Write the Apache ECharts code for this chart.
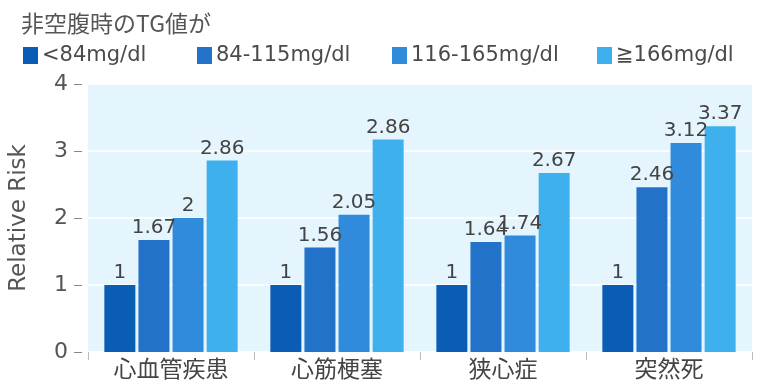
<!DOCTYPE html>
<html>
<head>
<meta charset="utf-8">
<script src="https://cdn.jsdelivr.net/npm/echarts@6/dist/echarts.min.js"></script>
<style>html,body{margin:0;padding:0;background:#fff}#c{width:757px;height:380px}</style>
</head>
<body>
<div id="c"></div>
<script>
const categories = ['心血管疾患', '心筋梗塞', '狭心症', '突然死'];
const seriesNames = ['<84mg/dl', '84-115mg/dl', '116-165mg/dl', '≧166mg/dl'];
const s1 = [1, 1, 1, 1];
const s2 = [1.67, 1.56, 1.64, 2.46];
const s3 = [2, 2.05, 1.74, 3.12];
const s4 = [2.86, 3.17, 2.67, 3.37];
const s1Labels = ['1', '1', '1', '1'];
const s2Labels = ['1.67', '1.56', '1.64', '2.46'];
const s3Labels = ['2', '2.05', '1.74', '3.12'];
const s4Labels = ['2.86', '2.86', '2.67', '3.37'];
const yTicks = [0, 1, 2, 3, 4];

const colors = ['#0a5cb4', '#2272c9', '#318bdc', '#3fb0ee'];
const values = [s1, s2, s3, s4];
const labels = [s1Labels, s2Labels, s3Labels, s4Labels];
const legendLefts = [18, 192, 387, 592];
const numFont = 'DejaVu Sans';
const cjkFont = '"Noto Sans CJK JP", "DejaVu Sans"';

const chart = echarts.init(document.getElementById('c'), null, {renderer: 'canvas'});
chart.setOption({
  animation: false,
  color: colors,
  title: {
    text: '非空腹時のTG値が',
    left: 16, top: 7,
    textStyle: {fontFamily: cjkFont, fontSize: 23, fontWeight: 'normal', color: '#555'}
  },
  legend: seriesNames.map((n, i) => ({
    data: [n],
    left: legendLefts[i], top: 40,
    itemWidth: 15, itemHeight: 17,
    icon: 'rect',
    textStyle: {fontFamily: numFont, fontSize: 21, color: '#4a4a4a', padding: [0,0,0,-1]}
  })),
  grid: {
    left: 88, right: 5, top: 84, bottom: 28,
    show: true, backgroundColor: '#e5f5fd', borderWidth: 0
  },
  xAxis: {
    type: 'category',
    data: categories,
    axisLine: {show: false},
    axisTick: {show: true, length: 8, lineStyle: {color: '#bbb'}},
    axisLabel: {fontFamily: cjkFont, fontSize: 23, color: '#444', margin: 5}
  },
  yAxis: {
    type: 'value',
    min: yTicks[0], max: yTicks[yTicks.length - 1], interval: 1,
    offset: 6,
    name: 'Relative Risk',
    nameLocation: 'middle',
    nameGap: 51,
    nameTextStyle: {fontFamily: numFont, fontSize: 23, color: '#555'},
    axisLine: {show: false},
    axisTick: {show: true, length: 8, lineStyle: {color: '#888'}},
    axisLabel: {fontFamily: numFont, fontSize: 22, color: '#555', margin: 14},
    splitLine: {show: true, lineStyle: {color: '#ffffff', width: 1.5}}
  },
  series: values.map((v, i) => ({
    name: seriesNames[i],
    type: 'bar',
    data: v,
    barWidth: 31,
    barGap: '10%',
    itemStyle: {color: colors[i]},
    label: {
      show: true, position: 'top', distance: 2,
      fontFamily: numFont, fontSize: 20, color: '#444',
      formatter: p => labels[i][p.dataIndex]
    }
  }))
});
</script>
</body>
</html>
